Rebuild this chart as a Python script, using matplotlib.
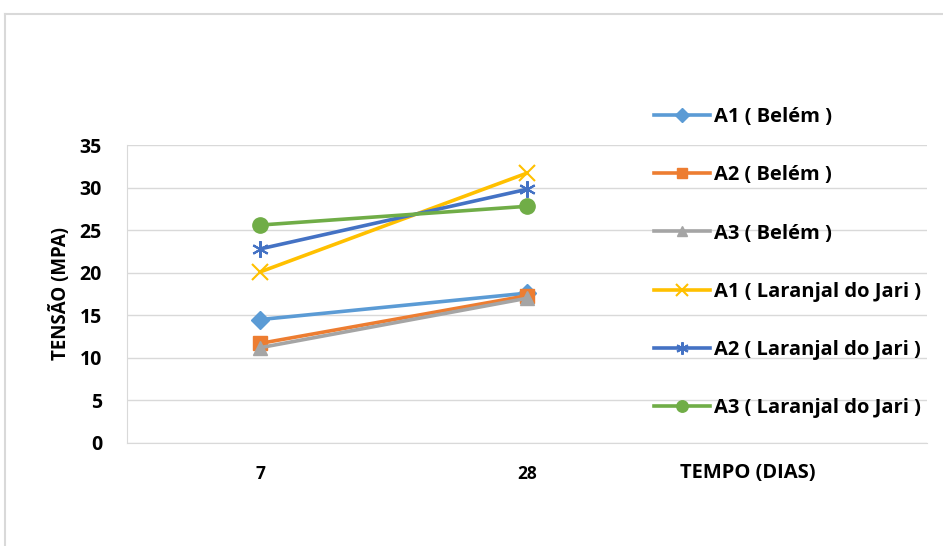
import matplotlib.pyplot as plt
from matplotlib.lines import Line2D

plt.rcParams['font.family'] = ['Open Sans', 'DejaVu Sans']
plt.rcParams['font.weight'] = 'bold'

# DATA
dias = ["7", "28"]
a1_belem = [14.5, 17.6]
a2_belem = [11.7, 17.3]
a3_belem = [11.2, 17.0]
a1_jari = [20.1, 31.7]
a2_jari = [22.8, 29.8]
a3_jari = [25.6, 27.8]

series = [
    ("A1 ( Belém )", a1_belem, "#5B9BD5", "D", 9),
    ("A2 ( Belém )", a2_belem, "#ED7D31", "s", 10),
    ("A3 ( Belém )", a3_belem, "#A5A5A5", "^", 10),
    ("A1 ( Laranjal do Jari )", a1_jari, "#FFC000", "x", 11),
    ("A2 ( Laranjal do Jari )", a2_jari, "#4472C4", (6, 2, 0), 12),
    ("A3 ( Laranjal do Jari )", a3_jari, "#70AD47", "o", 11),
]

fig = plt.figure(figsize=(9.43, 5.46), dpi=100)
ax = fig.add_axes([127/943, 1-443/546, 800/943, 298/546])

x = list(range(len(dias)))
for name, vals, col, mk, ms in series:
    ax.plot(x, vals, color=col, lw=2.6, marker=mk, markersize=ms,
            markeredgewidth=1.5 if mk in ("x", (6, 2, 0)) else 1,
            markerfacecolor=col, markeredgecolor=col, label=name)

ax.set_xlim(-0.5, 2.5)
ax.set_ylim(0, 35)
ax.set_yticks(range(0, 36, 5))
ax.set_xticks(x)
ax.set_xticklabels(dias)
ax.tick_params(axis='y', length=0, labelsize=14, pad=18)
ax.tick_params(axis='x', length=0, labelsize=12.5, pad=16)
ax.grid(axis='y', color="#D9D9D9", lw=1)
ax.set_axisbelow(True)
for s in ["top", "right"]:
    ax.spines[s].set_visible(False)
ax.spines["left"].set_color("#D9D9D9")
ax.spines["bottom"].set_color("#D9D9D9")

ax.set_ylabel("TENSÃO (MPA)", fontsize=13.5, fontweight='bold', labelpad=6)
fig.text(748/943, 1-473/546, "TEMPO (DIAS)", fontsize=14.5, fontweight='bold',
         ha='center', va='center')

ax.legend(loc='upper left', bbox_to_anchor=(654/943, 1-107/546),
          bbox_transform=fig.transFigure, frameon=False, fontsize=14.5,
          labelspacing=1.9, handlelength=2.8, handletextpad=0.2,
          borderpad=0, borderaxespad=0, markerscale=0.75)

# chart border (cropped)
fig.add_artist(Line2D([5/943, 1], [1-14/546, 1-14/546], color="#D9D9D9", lw=1.5))
fig.add_artist(Line2D([5/943, 5/943], [0, 1-14/546], color="#D9D9D9", lw=1.5))

fig.savefig("out.png", dpi=100)
